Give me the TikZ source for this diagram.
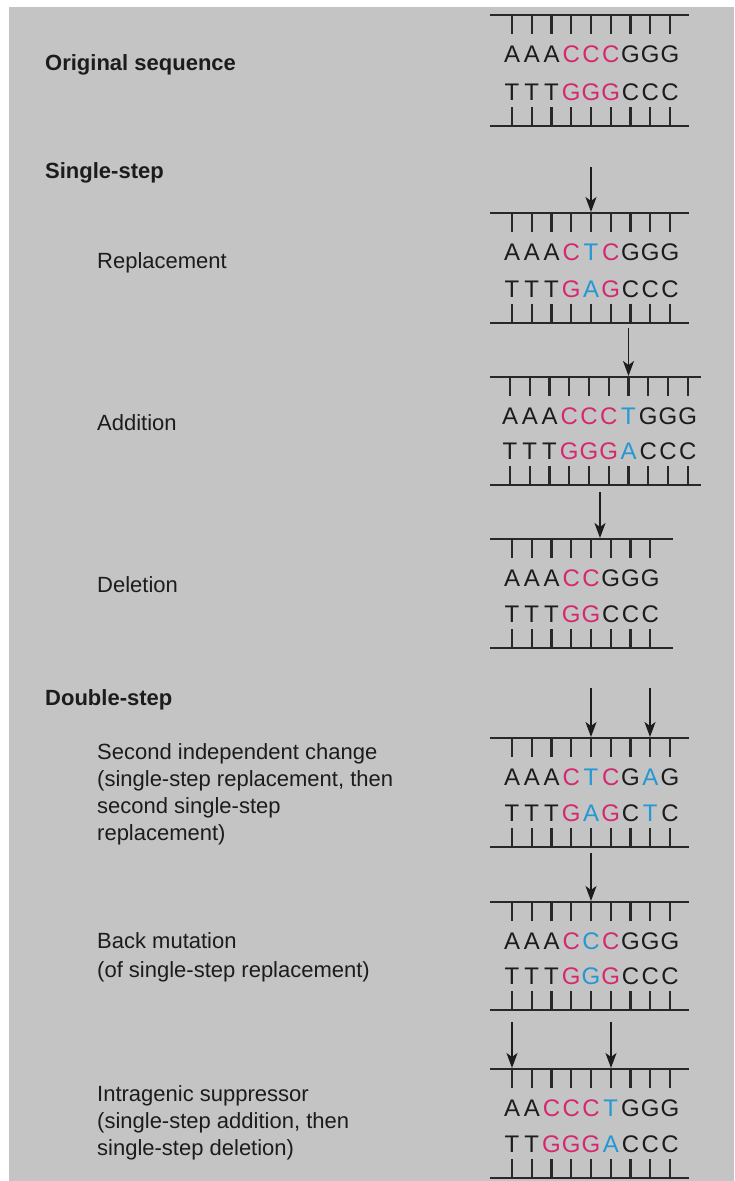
\documentclass[tikz,border=0pt]{standalone}
\usepackage{fontspec}
\setmainfont{Liberation Sans}
\usetikzlibrary{arrows.meta}
\definecolor{bg}{RGB}{196,196,196}
\definecolor{mag}{RGB}{214,40,112}
\definecolor{blu}{RGB}{35,152,212}
\definecolor{ink}{RGB}{28,28,28}
\definecolor{lin}{RGB}{40,40,40}

\tikzset{
  strand/.style={draw=lin, line width=2.4},
  tickmark/.style={draw=lin, line width=2.4},
  base/.style={anchor=base, inner sep=0pt, text=ink, font=\fontsize{24}{28}\selectfont},
  lbl/.style={anchor=base west, inner sep=0pt, text=ink, font=\fontsize{22}{27}\selectfont},
  hdr/.style={lbl, font=\fontsize{22}{27}\selectfont\bfseries},
  mut/.style={draw=ink, line width=1.5, -{Stealth[length=15,width=11,inset=4]}},
}

% #1 name, #2 top line y, #3 bottom line y, #4 x left, #5 x right, #6 first tick x, #7 top seq, #8 bottom seq
\newcommand{\dnablock}[8]{%
  \draw[strand] (#4,#2) -- (#5,#2);
  \draw[strand] (#4,#3) -- (#5,#3);
  \foreach \l/\c [count=\i from 0] in {#7} {
    \pgfmathsetmacro{\xx}{#6+19.75*\i}
    \draw[tickmark] (\xx,#2) -- (\xx,#2+19);
    \node[base,text=\c] (#1t\i) at (\xx,#2+47) {\l};
  }
  \foreach \l/\c [count=\i from 0] in {#8} {
    \pgfmathsetmacro{\xx}{#6+19.75*\i}
    \draw[tickmark] (\xx,#3-19) -- (\xx,#3);
    \node[base,text=\c] (#1b\i) at (\xx,#3-26) {\l};
  }
}

\begin{document}
\begin{tikzpicture}[x=1pt,y=-1pt]
\useasboundingbox (0,0) rectangle (734,1181);
\fill[white] (0,0) rectangle (734,1181);
\fill[bg] (9,7) rectangle (734,1181);

% labels
\node[hdr] (orig) at (45,70) {Original sequence};
\node[hdr] (single) at (45,178) {Single-step};
\node[lbl] (repl) at (97,268) {Replacement};
\node[lbl] (addi) at (97,430) {Addition};
\node[lbl] (dele) at (97,592) {Deletion};
\node[hdr] (double) at (45,705) {Double-step};
\node[lbl] (sec1) at (97,759) {Second independent change};
\node[lbl] (sec2) at (97,786) {(single-step replacement, then};
\node[lbl] (sec3) at (97,813) {second single-step};
\node[lbl] (sec4) at (97,840) {replacement)};
\node[lbl] (back1) at (97,948) {Back mutation};
\node[lbl] (back2) at (97,977) {(of single-step replacement)};
\node[lbl] (intr1) at (97,1101) {Intragenic suppressor};
\node[lbl] (intr2) at (97,1128) {(single-step addition, then};
\node[lbl] (intr3) at (97,1155) {single-step deletion)};

% DNA blocks
\dnablock{o}{15}{126}{490}{689}{512}
  {A/ink,A/ink,A/ink,C/mag,C/mag,C/mag,G/ink,G/ink,G/ink}
  {T/ink,T/ink,T/ink,G/mag,G/mag,G/mag,C/ink,C/ink,C/ink}
\dnablock{r}{213}{323}{490}{689}{512}
  {A/ink,A/ink,A/ink,C/mag,T/blu,C/mag,G/ink,G/ink,G/ink}
  {T/ink,T/ink,T/ink,G/mag,A/blu,G/mag,C/ink,C/ink,C/ink}
\dnablock{a}{377}{485}{490}{701}{510}
  {A/ink,A/ink,A/ink,C/mag,C/mag,C/mag,T/blu,G/ink,G/ink,G/ink}
  {T/ink,T/ink,T/ink,G/mag,G/mag,G/mag,A/blu,C/ink,C/ink,C/ink}
\dnablock{d}{539}{648}{490}{673}{512}
  {A/ink,A/ink,A/ink,C/mag,C/mag,G/ink,G/ink,G/ink}
  {T/ink,T/ink,T/ink,G/mag,G/mag,C/ink,C/ink,C/ink}
\dnablock{s}{738}{847}{490}{689}{512}
  {A/ink,A/ink,A/ink,C/mag,T/blu,C/mag,G/ink,A/blu,G/ink}
  {T/ink,T/ink,T/ink,G/mag,A/blu,G/mag,C/ink,T/blu,C/ink}
\dnablock{m}{902}{1010}{490}{689}{512}
  {A/ink,A/ink,A/ink,C/mag,C/blu,C/mag,G/ink,G/ink,G/ink}
  {T/ink,T/ink,T/ink,G/mag,G/blu,G/mag,C/ink,C/ink,C/ink}
\dnablock{i}{1069}{1178}{490}{689}{512}
  {A/ink,A/ink,C/mag,C/mag,C/mag,T/blu,G/ink,G/ink,G/ink}
  {T/ink,T/ink,G/mag,G/mag,G/mag,A/blu,C/ink,C/ink,C/ink}

% mutation arrows
\coordinate (r1s) at (591,167);  \coordinate (r1e) at (591,212);
\coordinate (a1s) at (628.5,328); \coordinate (a1e) at (628.5,376);
\coordinate (d1s) at (600,492);  \coordinate (d1e) at (600,538);
\coordinate (s1s) at (591,688);  \coordinate (s1e) at (591,737);
\coordinate (s2s) at (650,688);  \coordinate (s2e) at (650,737);
\coordinate (m1s) at (591,853);  \coordinate (m1e) at (591,901);
\coordinate (i1s) at (512,1022); \coordinate (i1e) at (512,1068);
\coordinate (i2s) at (611,1022); \coordinate (i2e) at (611,1068);
\draw[mut] (r1s) -- (r1e);
\draw[mut] (a1s) -- (a1e);
\draw[mut] (d1s) -- (d1e);
\draw[mut] (s1s) -- (s1e);
\draw[mut] (s2s) -- (s2e);
\draw[mut] (m1s) -- (m1e);
\draw[mut] (i1s) -- (i1e);
\draw[mut] (i2s) -- (i2e);
\end{tikzpicture}
\end{document}
